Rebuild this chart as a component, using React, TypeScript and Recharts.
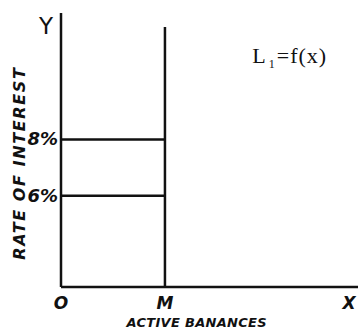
import React from 'react';
import { LineChart, Line, XAxis, YAxis, ReferenceDot } from 'recharts';

// ---- data ----
const rates = [6, 8]; // rate of interest levels (%)
const yTicks = [6, 8, 12.07];
const yTickLabels = ['6%', '8%', 'Y'];
const mValue = 35; // active balances M
const xTicks = [0, 35, 97];
const xTickLabels = ['O', 'M', 'X'];
const yDomain: [number, number] = [2.75, 12.5];
const xDomain: [number, number] = [0, 100];
const mLineTop = 12;
const curveLabel = { x: 77, y: 10.96, text: 'L', sub: '1', rest: '=f(x)' };
const xAxisTitle = 'ACTIVE BANANCES';
const yAxisTitle = 'RATE OF INTEREST';

const rateSegments = rates.map((r) => [
  { x: 0, y: r },
  { x: mValue, y: r },
]);
const mSegment = [
  { x: mValue, y: yDomain[0] },
  { x: mValue, y: mLineTop },
];

const handFont = '"DejaVu Sans", sans-serif';

const XTick = (props: any) => {
  const { x, y, payload } = props;
  const i = xTicks.indexOf(payload.value);
  return (
    <text x={x} y={y} dy={14} textAnchor="middle" fontFamily={handFont} fontStyle="italic" fontWeight="bold" fontSize={17} fill="#111">
      {xTickLabels[i]}
    </text>
  );
};

const YTick = (props: any) => {
  const { x, y, payload } = props;
  const i = yTicks.indexOf(payload.value);
  const label = yTickLabels[i];
  const big = label === 'Y';
  return (
    <text
      x={big ? x : x + 5}
      y={y}
      dy={big ? 9 : 6}
      textAnchor="end"
      fontFamily={handFont}
      fontStyle={big ? 'normal' : 'italic'}
      fontWeight={big ? 'normal' : 'bold'}
      fontSize={big ? 23 : 18}
      fill="#111"
    >
      {label}
    </text>
  );
};

export default function App() {
  return (
    <div style={{ position: 'absolute', left: 0, top: 0, background: '#fff' }}>
      <LineChart width={358} height={329} margin={{ top: 13, right: 0, bottom: 0, left: 0 }}>
        <XAxis
          type="number"
          dataKey="x"
          domain={xDomain}
          ticks={xTicks}
          interval={0}
          tick={<XTick />}
          tickLine={false}
          axisLine={{ stroke: '#111', strokeWidth: 2.5 }}
          height={42}
          allowDataOverflow
          label={{
            content: (p: any) => {
              const vb = p.viewBox;
              return (
                <text
                  x={vb.x + vb.width * 0.457}
                  y={vb.y + vb.height - 2}
                  textAnchor="middle"
                  fontFamily={handFont}
                  fontStyle="italic"
                  fontWeight="bold"
                  fontSize={13}
                  letterSpacing={0.3}
                  fill="#111"
                >
                  {xAxisTitle}
                </text>
              );
            },
          }}
        />
        <YAxis
          type="number"
          dataKey="y"
          domain={yDomain}
          ticks={yTicks}
          interval={0}
          tick={<YTick />}
          tickLine={false}
          axisLine={{ stroke: '#111', strokeWidth: 2.5 }}
          width={61}
          allowDataOverflow
          label={{
            content: (p: any) => {
              const vb = p.viewBox;
              const cx = vb.x + 20;
              const cy = vb.y + vb.height * 0.548;
              return (
                <text
                  x={cx}
                  y={cy}
                  transform={`rotate(-90 ${cx} ${cy})`}
                  textAnchor="middle"
                  dominantBaseline="central"
                  fontFamily={handFont}
                  fontStyle="italic"
                  fontWeight="bold"
                  fontSize={16}
                  letterSpacing={1.6}
                  fill="#111"
                >
                  {yAxisTitle}
                </text>
              );
            },
          }}
        />
        {rateSegments.map((seg, i) => (
          <Line
            key={i}
            data={seg}
            dataKey="y"
            stroke="#111"
            strokeWidth={2.5}
            dot={false}
            isAnimationActive={false}
          />
        ))}
        <Line data={mSegment} dataKey="y" stroke="#111" strokeWidth={2.5} dot={false} isAnimationActive={false} />
        <ReferenceDot
          x={curveLabel.x}
          y={curveLabel.y}
          r={0}
          stroke="none"
          fill="none"
          label={{
            content: (p: any) => {
              const vb = p.viewBox;
              const cx = vb.x + (vb.width || 0) / 2;
              const cy = vb.y + (vb.height || 0) / 2;
              return (
                <text
                  x={cx}
                  y={cy}
                  dy={7}
                  textAnchor="middle"
                  fontFamily='"Liberation Serif", serif'
                  fontSize={22}
                  letterSpacing={1}
                  fill="#111"
                >
                  {curveLabel.text}
                  <tspan fontSize={12} dx={2} dy={5}>{curveLabel.sub}</tspan>
                  <tspan dx={1} dy={-5}>{curveLabel.rest}</tspan>
                </text>
              );
            },
          }}
        />
      </LineChart>
    </div>
  );
}
